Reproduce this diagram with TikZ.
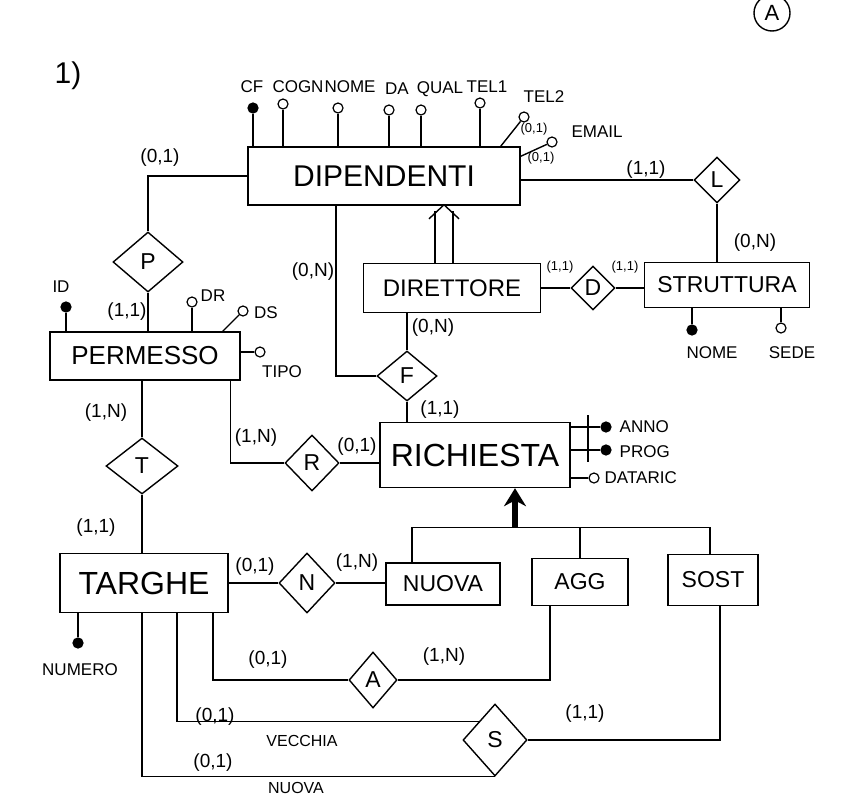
\documentclass[tikz,border=0pt]{standalone}
\usepackage{fontspec}
\setmainfont{Liberation Sans}
\usetikzlibrary{shapes.geometric,arrows.meta}
\begin{document}
\begin{tikzpicture}[x=1pt,y=-1pt, line width=1.4pt,
  ent/.style={draw, rectangle, inner sep=0pt, fill=white},
  rel/.style={draw, diamond, inner sep=0pt, fill=white, font=\fontsize{23}{23}\selectfont},
  att/.style={draw, circle, inner sep=0pt, minimum size=10pt, fill=white, line width=1.2pt},
  katt/.style={att, fill=black},
  lab/.style={font=\fontsize{17}{17}\selectfont, inner sep=0pt},
  card/.style={font=\fontsize{19}{19}\selectfont, inner sep=0pt},
  smallcard/.style={font=\fontsize{13}{13}\selectfont, inner sep=0pt},
]
\useasboundingbox (0,0) rectangle (842,800);
\fill[white] (0,0) rectangle (842,800);

% corner marks
\node[font=\fontsize{30}{30}\selectfont] (num) at (68,76) {1)};
\node[draw, circle, minimum size=36pt, inner sep=0pt, font=\fontsize{22}{22}\selectfont] (tag) at (772,13) {A};

% entities
\node[ent, minimum width=272pt, minimum height=58pt, font=\fontsize{30}{30}\selectfont] (DIP) at (384,176) {DIPENDENTI};
\node[ent, minimum width=190pt, minimum height=48pt, font=\fontsize{26}{26}\selectfont] (PERM) at (145,356) {PERMESSO};
\node[ent, minimum width=177pt, minimum height=49pt, font=\fontsize{24}{24}\selectfont] (DIR) at (452,288) {DIRETTORE};
\node[ent, minimum width=165pt, minimum height=45pt, font=\fontsize{23}{23}\selectfont] (STR) at (727,285) {STRUTTURA};
\node[ent, minimum width=190pt, minimum height=65pt, font=\fontsize{32}{32}\selectfont] (RIC) at (475,455) {RICHIESTA};
\node[ent, minimum width=168pt, minimum height=59pt, font=\fontsize{32}{32}\selectfont] (TAR) at (144,583) {TARGHE};
\node[ent, minimum width=114pt, minimum height=42pt, font=\fontsize{23}{23}\selectfont] (NUO) at (443,584) {NUOVA};
\node[ent, minimum width=96pt, minimum height=47pt, font=\fontsize{23}{23}\selectfont] (AGG) at (580,582) {AGG};
\node[ent, minimum width=90pt, minimum height=51pt, font=\fontsize{23}{23}\selectfont] (SOST) at (713,580) {SOST};

% relationships
\node[rel, minimum width=70pt, minimum height=60pt] (P) at (148,262) {P};
\node[rel, minimum width=72pt, minimum height=56pt] (T) at (142,466) {T};
\node[rel, minimum width=54pt, minimum height=56pt] (R) at (312,463) {R};
\node[rel, minimum width=60pt, minimum height=50pt] (F) at (407,376) {F};
\node[rel, minimum width=44pt, minimum height=44pt] (D) at (593,288) {D};
\node[rel, minimum width=46pt, minimum height=46pt] (L) at (717,180) {L};
\node[rel, minimum width=56pt, minimum height=60pt] (N) at (307,583) {N};
\node[rel, minimum width=48pt, minimum height=56pt] (A) at (373,680) {A};
\node[rel, minimum width=64pt, minimum height=72pt] (S) at (495,740) {S};

% connectors
\draw (DIP.west) -| (P.north);
\draw (P.south) -- (P.south |- PERM.north);
\draw (T.north) -- (T.north |- PERM.south);
\draw (T.south) -- (T.south |- TAR.north);
\draw ([xshift=-10pt]PERM.south east) |- (R.west);
\draw (R.east) -- (R.east -| RIC.west);
\draw ([xshift=-48pt]DIP.south) |- (F.west);
\draw (F.north) -- (F.north |- DIR.south);
\draw (F.south) -- (F.south |- RIC.north);
\draw (DIR.east) -- (D.west);
\draw (D.east) -- (D.east -| STR.west);
\draw (L.west) -- (L.west -| DIP.east);
\draw (L.south) -- (L.south |- STR.north);
\draw (TAR.east) -- (N.west);
\draw (N.east) -- (N.east -| NUO.west);
\draw ([xshift=69pt]TAR.south) |- (A.west);
\draw (A.east) -| ([xshift=-30pt]AGG.south);
\draw ([xshift=33pt]TAR.south) |- (S.north west);
\draw ([xshift=-2pt]TAR.south) |- (S.south);
\draw (S.east) -| ([xshift=7pt]SOST.south);

% ISA DIRETTORE -> DIPENDENTI
\draw ([xshift=-17pt]DIR.north) -- ++(0,-52);
\draw ([xshift=1pt]DIR.north) -- ++(0,-52);
\draw ([xshift=-23pt,yshift=44pt]DIR.north) -- ([xshift=-8pt,yshift=58pt]DIR.north) -- ([xshift=7pt,yshift=44pt]DIR.north);

% generalization of RICHIESTA
\coordinate (isa) at (515,527);
\draw ([xshift=-31pt]NUO.north) -- ++(0,-35) -| ([xshift=-3pt]SOST.north);
\draw (AGG.north) -- (AGG.north |- isa);
\draw[line width=6pt, -{Stealth[length=18pt,width=22pt]}] (isa) -- (isa |- RIC.south);

% attributes of DIPENDENTI
\node[katt] (cf) at (253,108) {};
\node[att] (cogn) at (283,104) {};
\node[att] (nome) at (338,108) {};
\node[att] (da) at (389,110) {};
\node[att] (qual) at (421,110) {};
\node[att] (tel1) at (480,103) {};
\node[att] (tel2) at (524,117) {};
\node[att] (email) at (552,142) {};
\draw (cf) -- (cf |- DIP.north);
\draw (cogn) -- (cogn |- DIP.north);
\draw (nome) -- (nome |- DIP.north);
\draw (da) -- (da |- DIP.north);
\draw (qual) -- (qual |- DIP.north);
\draw (tel1) -- (tel1 |- DIP.north);
\draw (tel2) -- ([xshift=-20pt]DIP.north east);
\draw (email) -- ([yshift=-10pt]DIP.north east);
\node[lab] (lcf) at (252,87) {CF};
\node[lab] (lcogn) at (298,87) {COGN};
\node[lab] (lnome) at (350,87) {NOME};
\node[lab] (lda) at (397,89) {DA};
\node[lab] (lqual) at (440,89) {QUAL};
\node[lab] (ltel1) at (487,87) {TEL1};
\node[lab] (ltel2) at (544,97) {TEL2};
\node[lab] (lemail) at (597,132) {EMAIL};
\node[smallcard] (ctel2) at (534,129) {(0,1)};
\node[smallcard] (cemail) at (541,158) {(0,1)};

% attributes of PERMESSO
\node[katt] (id) at (66,307) {};
\node[att] (dr) at (192,302) {};
\node[att] (ds) at (243,311) {};
\node[att] (tipo) at (260,352) {};
\draw (id) -- (id |- PERM.north);
\draw (dr) -- (dr |- PERM.north);
\draw (ds) -- ([xshift=-18pt]PERM.north east);
\draw (tipo) -- (tipo -| PERM.east);
\node[lab] (lid) at (61,287) {ID};
\node[lab] (ldr) at (213,296) {DR};
\node[lab] (lds) at (266,313) {DS};
\node[lab] (ltipo) at (282,372) {TIPO};

% attributes of STRUTTURA
\node[katt] (snome) at (692,330) {};
\node[att] (sede) at (781,328) {};
\draw (snome) -- (snome |- STR.south);
\draw (sede) -- (sede |- STR.south);
\node[lab] (lsnome) at (712,353) {NOME};
\node[lab] (lsede) at (792,353) {SEDE};

% attributes of RICHIESTA
\node[katt] (anno) at (606,427) {};
\node[katt] (prog) at (606,450) {};
\node[att] (dataric) at (594,478) {};
\draw (anno) -- (anno -| RIC.east);
\draw (prog) -- (prog -| RIC.east);
\draw (dataric) -- (dataric -| RIC.east);
\draw ([xshift=-18pt,yshift=12pt]anno.center) -- ([xshift=-18pt,yshift=-12pt]prog.center);
\node[lab, anchor=west] (lanno) at (619,427) {ANNO};
\node[lab, anchor=west] (lprog) at (619,452) {PROG};
\node[lab, anchor=west] (ldataric) at (604,478) {DATARIC};

% attribute of TARGHE
\node[katt] (numero) at (78,643) {};
\draw (numero) -- (numero |- TAR.south);
\node[lab] (lnumero) at (80,670) {NUMERO};

% cardinalities
\node[card] (c1) at (160,158) {(0,1)};
\node[card] (c2) at (127,312) {(1,1)};
\node[card] (c3) at (106,413) {(1,N)};
\node[card] (c4) at (96,528) {(1,1)};
\node[card] (c5) at (256,438) {(1,N)};
\node[card] (c6) at (357,447) {(0,1)};
\node[card] (c7) at (313,272) {(0,N)};
\node[card] (c8) at (433,328) {(0,N)};
\node[card] (c9) at (440,410) {(1,1)};
\node[smallcard] (c10) at (560,267) {(1,1)};
\node[smallcard] (c11) at (625,267) {(1,1)};
\node[card] (c12) at (646,170) {(1,1)};
\node[card] (c13) at (755,243) {(0,N)};
\node[card] (c14) at (255,567) {(0,1)};
\node[card] (c15) at (357,563) {(1,N)};
\node[card] (c16) at (268,660) {(0,1)};
\node[card] (c17) at (444,657) {(1,N)};
\node[card] (c18) at (215,717) {(0,1)};
\node[lab, font=\fontsize{16}{16}\selectfont] (lvec) at (302,741) {VECCHIA};
\node[card] (c19) at (213,763) {(0,1)};
\node[lab, font=\fontsize{16}{16}\selectfont] (lnuo) at (296,788) {NUOVA};
\node[card] (c20) at (585,714) {(1,1)};
\end{tikzpicture}
\end{document}
